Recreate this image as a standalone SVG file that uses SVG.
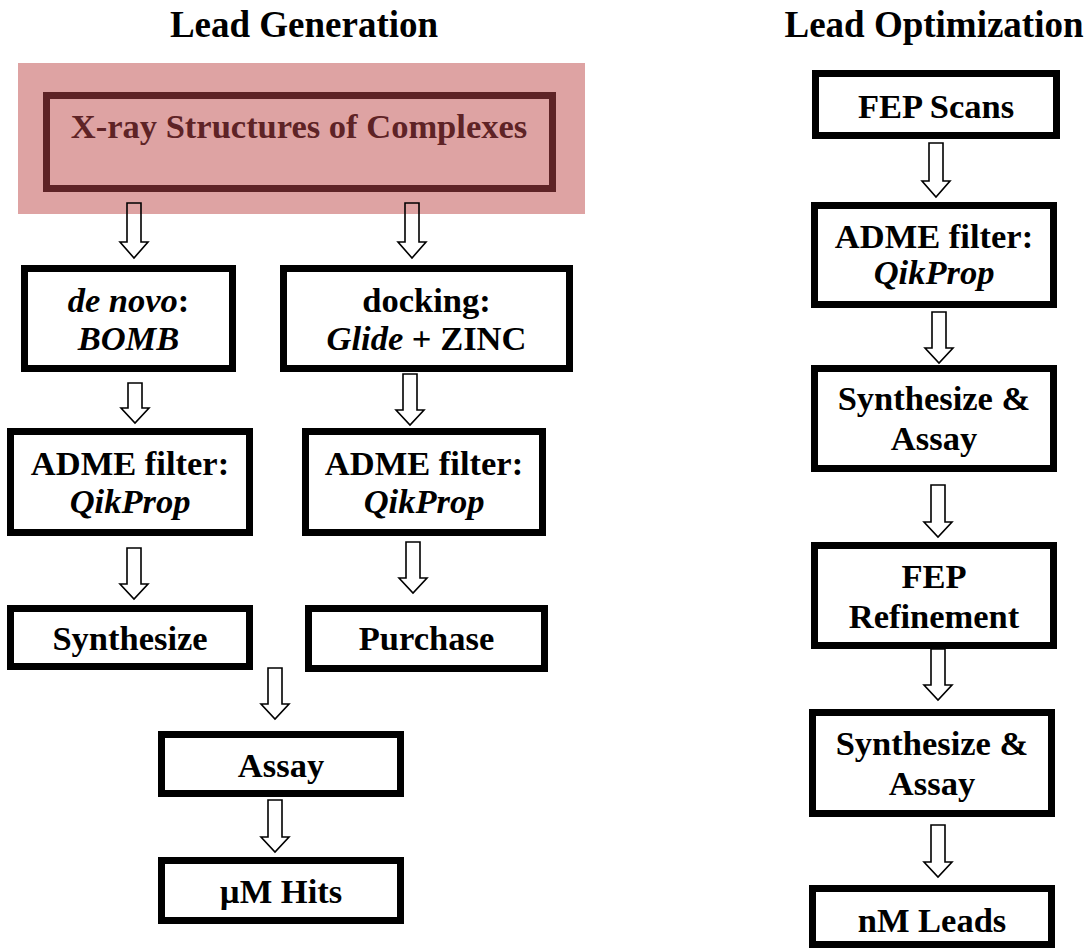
<svg xmlns="http://www.w3.org/2000/svg" width="1088" height="950" viewBox="0 0 1088 950">
<style>
text{font-family:"Liberation Serif","Times New Roman",serif;font-weight:bold;text-anchor:middle;fill:#000}
.t{font-size:37px}
.l{font-size:34.5px}
.i{font-style:italic}
.box{fill:#fff;stroke:#000;stroke-width:7}
.arr{fill:none;stroke:#000;stroke-width:1.6;stroke-linejoin:miter}
</style>
<rect width="1088" height="950" fill="#fff"/>
<text class="t" x="304" y="37">Lead Generation</text>
<text class="t" x="934" y="37">Lead Optimization</text>

<g id="xray">
<rect x="18" y="63" width="567" height="151" fill="#dea3a3"/>
<rect x="46.5" y="95.5" width="506" height="93" fill="none" stroke="#5e2326" stroke-width="7"/>
<text class="l" x="299" y="138" style="fill:#5e2326">X-ray Structures of Complexes</text>
</g>

<g id="denovo">
<rect class="box" x="24.5" y="268.5" width="208" height="100"/>
<text class="l" x="128.5" y="312"><tspan class="i">de novo</tspan>:</text>
<text class="l i" x="128.5" y="350">BOMB</text>
</g>
<g id="docking">
<rect class="box" x="283.5" y="268.5" width="286" height="100"/>
<text class="l" x="426.5" y="312">docking:</text>
<text class="l" x="426.5" y="350"><tspan class="i">Glide</tspan> + ZINC</text>
</g>
<g id="admeL">
<rect class="box" x="10.5" y="431.5" width="239" height="101"/>
<text class="l" x="130" y="475">ADME filter:</text>
<text class="l i" x="130" y="513">QikProp</text>
</g>
<g id="admeR">
<rect class="box" x="305.5" y="431.5" width="237" height="101"/>
<text class="l" x="424" y="475">ADME filter:</text>
<text class="l i" x="424" y="513">QikProp</text>
</g>
<g id="synth">
<rect class="box" x="10.5" y="608.5" width="239" height="58"/>
<text class="l" x="130" y="650">Synthesize</text>
</g>
<g id="purchase">
<rect class="box" x="308.5" y="608.5" width="236" height="60"/>
<text class="l" x="426.5" y="650">Purchase</text>
</g>
<g id="assay">
<rect class="box" x="161.5" y="734.5" width="239" height="59"/>
<text class="l" x="281" y="777">Assay</text>
</g>
<g id="hits">
<rect class="box" x="161.5" y="860.5" width="239" height="60"/>
<text class="l" x="281" y="903">µM Hits</text>
</g>

<g id="fepscans">
<rect class="box" x="815.5" y="73.5" width="241" height="62"/>
<text class="l" x="936" y="118">FEP Scans</text>
</g>
<g id="admeO">
<rect class="box" x="814.5" y="205.5" width="239" height="99"/>
<text class="l" x="934" y="248">ADME filter:</text>
<text class="l i" x="934" y="284">QikProp</text>
</g>
<g id="sa1">
<rect class="box" x="814.5" y="368.5" width="239" height="100"/>
<text class="l" x="934" y="410">Synthesize &amp;</text>
<text class="l" x="934" y="450">Assay</text>
</g>
<g id="fepref">
<rect class="box" x="814.5" y="545.5" width="239" height="100"/>
<text class="l" x="934" y="588">FEP</text>
<text class="l" x="934" y="628">Refinement</text>
</g>
<g id="sa2">
<rect class="box" x="812.5" y="712.5" width="239" height="101"/>
<text class="l" x="932" y="755">Synthesize &amp;</text>
<text class="l" x="932" y="795">Assay</text>
</g>
<g id="leads">
<rect class="box" x="812.5" y="888.5" width="239" height="56"/>
<text class="l" x="932" y="932">nM Leads</text>
</g>

<g id="connectors">
<path class="arr" d="M127,203 H141 V242 H148 L134,258 L120,242 H127 Z"/>
<path class="arr" d="M405,203 H419 V242 H426 L412,258 L398,242 H405 Z"/>
<path class="arr" d="M128,383 H142 V408 H149 L135,423 L121,408 H128 Z"/>
<path class="arr" d="M403,374 H417 V410 H424 L410,425 L396,410 H403 Z"/>
<path class="arr" d="M127,548 H141 V584 H148 L134,599 L120,584 H127 Z"/>
<path class="arr" d="M406,542 H420 V578 H427 L413,593 L399,578 H406 Z"/>
<path class="arr" d="M268,668 H282 V704 H289 L275,719 L261,704 H268 Z"/>
<path class="arr" d="M268,800 H282 V837 H289 L275,852 L261,837 H268 Z"/>
<path class="arr" d="M929,143 H943 V181 H950 L936,197 L922,181 H929 Z"/>
<path class="arr" d="M932,312 H946 V348 H953 L939,363 L925,348 H932 Z"/>
<path class="arr" d="M931,485 H945 V522 H952 L938,537 L924,522 H931 Z"/>
<path class="arr" d="M931,649 H945 V685 H952 L938,700 L924,685 H931 Z"/>
<path class="arr" d="M931,825 H945 V862 H952 L938,877 L924,862 H931 Z"/>
</g>
</svg>
